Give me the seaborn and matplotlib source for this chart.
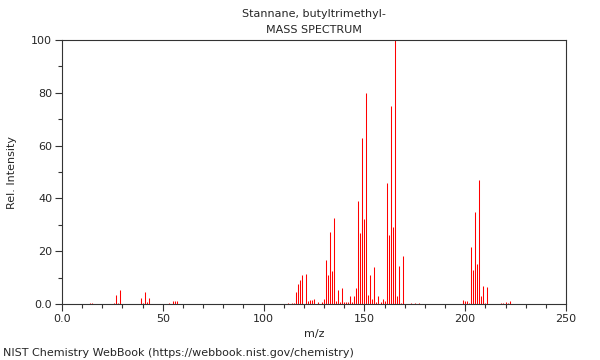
import matplotlib
matplotlib.use("Agg")
import matplotlib.pyplot as plt
import seaborn as sns
from matplotlib.ticker import MultipleLocator, FixedLocator

# 피크 위치 (m/z) 와 상대 세기 - 그림에서 읽은 값
mz = [14, 15, 26, 27, 28, 29, 39, 40, 41, 42, 43, 53, 55, 56, 57,
      112, 114, 115, 116, 117, 118, 119, 121, 122, 123, 124, 125, 127, 129,
      130, 131, 132, 133, 134, 135, 136, 137, 138, 139, 140, 141, 142,
      143, 144, 145, 146, 147, 148, 149, 150, 151, 152, 153, 154, 155,
      156, 157, 158, 159, 160, 161, 162, 163, 164, 165, 166, 167, 168, 169,
      173, 175, 177,
      199, 200, 201, 202, 203, 204, 205, 206, 207, 208, 209, 210, 211,
      218, 219, 220, 221, 222]
intensity = [0.5, 0.5, 0.5, 3.4, 0.4, 5.4, 2.3, 0.5, 4.7, 0.6, 2.4, 0.4, 1.0, 1.0, 1.0,
             0.3, 0.3, 0.3, 4.5, 7.4, 9.2, 10.8, 11.5, 1.1, 1.6, 1.4, 2.0, 0.9, 0.9,
             2.0, 16.5, 11.1, 27.1, 12.6, 32.5, 1.3, 5.4, 0.8, 6.2, 0.6, 0.8, 0.8,
             2.9, 0.6, 3.0, 6.0, 39.0, 27.0, 63.0, 32.3, 80.0, 3.4, 11.0, 2.0, 14.0,
             0.6, 3.0, 0.6, 2.0, 1.2, 46.0, 26.0, 75.0, 29.0, 100.0, 3.0, 14.4, 0.5, 18.0,
             0.4, 0.4, 0.5,
             1.4, 1.1, 1.0, 0.5, 21.7, 12.8, 35.0, 15.3, 47.0, 3.2, 6.9, 0.5, 6.4,
             0.5, 0.4, 0.9, 0.4, 1.0]

x_ticks = [0, 50, 100, 150, 200, 250]
x_labels = ["0.0", "50", "100", "150", "200", "250"]
y_ticks = [0, 20, 40, 60, 80, 100]
y_labels = ["0.0", "20", "40", "60", "80", "100"]

sns.set_style("ticks")
plt.rcParams["font.family"] = ["DejaVu Sans"]
plt.rcParams["font.size"] = 8

fig = plt.figure(figsize=(6, 3.6), dpi=100)
ax = fig.add_axes([0.1033, 0.1556, 0.84, 0.7333])

ax.vlines(mz, 0, intensity, colors="#ff0000", linewidth=0.75)

ax.set_xlim(0, 250)
ax.set_ylim(0, 100)
ax.xaxis.set_major_locator(FixedLocator(x_ticks))
ax.set_xticklabels(x_labels)
ax.yaxis.set_major_locator(FixedLocator(y_ticks))
ax.set_yticklabels(y_labels)
ax.xaxis.set_minor_locator(MultipleLocator(10))
ax.yaxis.set_minor_locator(MultipleLocator(10))
ax.tick_params(which="major", length=5, width=0.8, color="#333333", labelsize=8, pad=2)
ax.tick_params(which="minor", length=3, width=0.8, color="#333333")
for s in ax.spines.values():
    s.set_color("#333333")
    s.set_linewidth(0.8)

# 제목은 축 가운데 정렬
fig.text(0.5233, 0.962, "Stannane, butyltrimethyl-", ha="center", va="center", fontsize=8)
fig.text(0.5233, 0.916, "MASS SPECTRUM", ha="center", va="center", fontsize=8)
fig.text(0.5233, 0.073, "m/z", ha="center", va="center", fontsize=8)
fig.text(0.02, 0.52, "Rel. Intensity", ha="center", va="center", rotation=90, fontsize=8)
fig.text(0.005, 0.02, "NIST Chemistry WebBook (https://webbook.nist.gov/chemistry)",
         ha="left", va="center", fontsize=8)

fig.savefig("out.png", dpi=100)
